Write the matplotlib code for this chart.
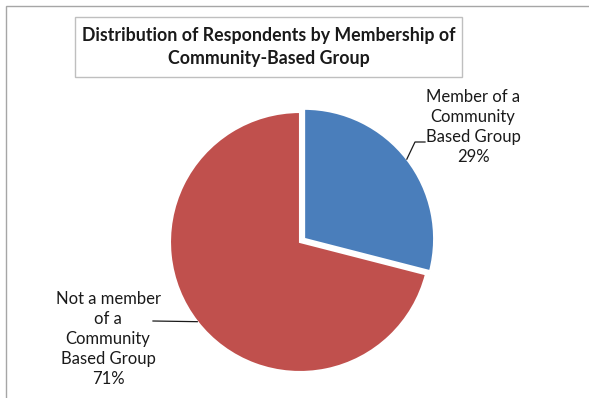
import numpy as np
import matplotlib.pyplot as plt
from matplotlib.patches import Rectangle

labels = ["Member of a\nCommunity\nBased Group", "Not a member\nof a\nCommunity\nBased Group"]
shares = [29, 71]
colors = ["#4a7ebb", "#c0504d"]

W, H = 589, 398
fig = plt.figure(figsize=(W / 100, H / 100), dpi=100)
ax = fig.add_axes([0, 0, 1, 1])

plt.rcParams['font.family'] = ['Lato', 'DejaVu Sans']

cx, cy, r = 300, H - 242, 130
# explode is in data units here, so scale it by the radius
wedges, _ = ax.pie(shares, colors=colors, startangle=90, counterclock=False,
                   center=(cx, cy), radius=r, explode=[0.04 * r, 0],
                   wedgeprops=dict(edgecolor="white", linewidth=1.5))

ax.set_xlim(0, W)
ax.set_ylim(0, H)
ax.set_aspect("equal")
ax.axis("off")

# chart area border and title box
ax.add_patch(Rectangle((6, -20), W + 20, H - 6 + 20, fill=False,
                       edgecolor="#a6a6a6", linewidth=1))
ax.add_patch(Rectangle((75, H - 77), 387, 60, fill=False,
                       edgecolor="#bfbfbf", linewidth=1))
ax.text(269, H - 47, "Distribution of Respondents by Membership of\nCommunity-Based Group",
        ha="center", va="center", fontsize=12.8, fontweight="bold",
        color="#1a1a1a", linespacing=1.42)

# data labels with leader lines from each wedge's mid-angle
label_pos = [(473, H - 127), (108, H - 339)]
for w, lab, val, (tx, ty) in zip(wedges, labels, shares, label_pos):
    ang = np.deg2rad((w.theta1 + w.theta2) / 2)
    x0 = w.center[0] + w.r * np.cos(ang)
    y0 = w.center[1] + w.r * np.sin(ang)
    ax.text(tx, ty, f"{lab}\n{val}%", ha="center", va="center",
            fontsize=12, color="#1a1a1a", linespacing=1.3)
    if x0 > cx:
        ax.plot([x0, 415, 425], [y0, H - 142, H - 142], color="#1a1a1a", lw=0.9)
    else:
        ax.plot([x0, 153], [y0, H - 321], color="#1a1a1a", lw=0.9)

fig.savefig("out.png", dpi=100)
